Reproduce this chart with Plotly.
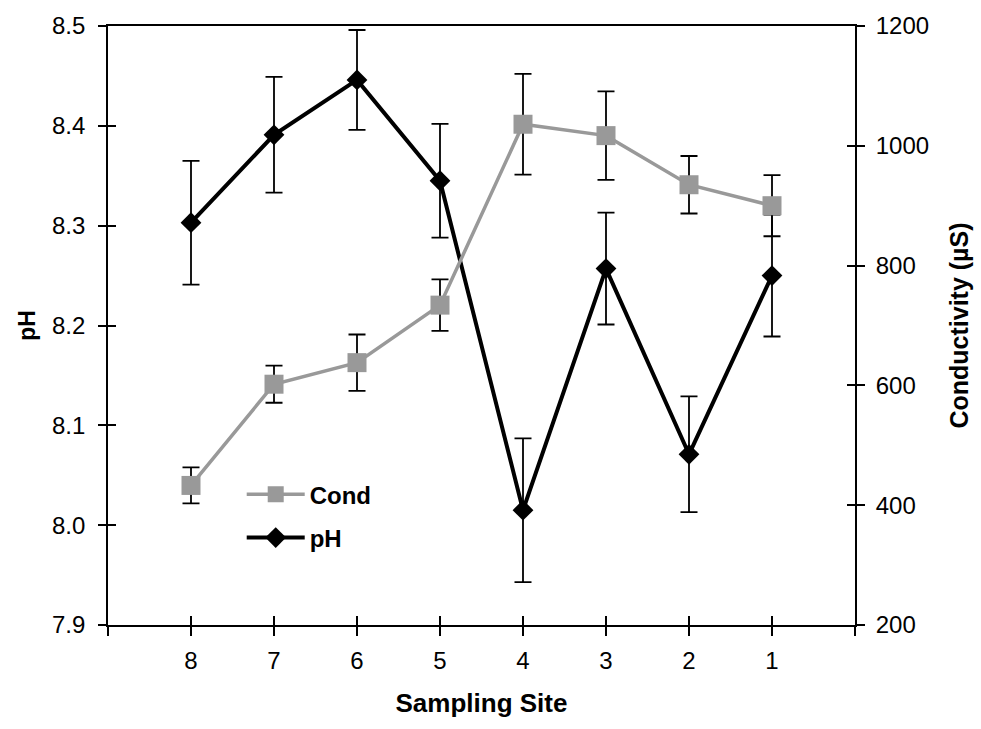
import plotly.graph_objects as go

# ---- data ----
sites = ["8", "7", "6", "5", "4", "3", "2", "1"]
ph_values = [8.303, 8.391, 8.446, 8.345, 8.015, 8.257, 8.071, 8.250]
ph_errors = [0.062, 0.058, 0.050, 0.057, 0.072, 0.056, 0.058, 0.061]
cond_values = [433, 602, 638, 734, 1036, 1017, 935, 900]
cond_errors = [30, 31, 47, 43, 84, 74, 48, 51]
ph_ticks = [7.9, 8.0, 8.1, 8.2, 8.3, 8.4, 8.5]
cond_ticks = [200, 400, 600, 800, 1000, 1200]

x_pos = list(range(1, len(sites) + 1))
x_ticks = list(range(0, len(sites) + 2))
x_text = [""] + sites + [""]

FONT = "Arial, Liberation Sans, sans-serif"
TICK_FONT = dict(family=FONT, size=24, color="black")
TITLE_FONT = dict(family=FONT, size=25, color="black", weight="bold")

fig = go.Figure()

fig.add_trace(go.Scatter(
    x=x_pos, y=cond_values, name="Cond", yaxis="y2", legendgroup="c",
    mode="lines+markers",
    line=dict(color="#999999", width=3.5),
    marker=dict(symbol="square", size=19, color="#999999"),
    error_y=dict(type="data", array=cond_errors, visible=True,
                 color="black", thickness=1.8, width=8.5),
))
fig.add_trace(go.Scatter(
    x=x_pos, y=ph_values, name="pH", yaxis="y", legendgroup="p",
    mode="lines+markers",
    line=dict(color="black", width=4),
    marker=dict(symbol="diamond", size=16, color="black"),
    error_y=dict(type="data", array=ph_errors, visible=True,
                 color="black", thickness=1.8, width=8.5),
))
# empty helper traces so the inside-tick overlay axes get drawn
fig.add_trace(go.Scatter(x=[], y=[], xaxis="x2", yaxis="y3", showlegend=False, hoverinfo="skip"))
fig.add_trace(go.Scatter(x=[], y=[], xaxis="x2", yaxis="y4", showlegend=False, hoverinfo="skip"))

xr = [0, len(sites) + 1]
fig.update_layout(
    width=981, height=729,
    margin=dict(l=108, r=121, t=21, b=104),
    paper_bgcolor="white", plot_bgcolor="white",
    showlegend=True,
    legend=dict(x=0.179, y=0.255, xanchor="left", yanchor="top",
                bgcolor="rgba(0,0,0,0)", borderwidth=0,
                font=dict(family=FONT, size=24, color="black", weight="bold"),
                itemwidth=58, tracegroupgap=9),
    xaxis=dict(range=xr, tickvals=x_ticks, ticktext=x_text,
               ticks="outside", ticklen=9, tickwidth=1.5, tickcolor="black",
               showline=True, linewidth=2, linecolor="black", mirror=True,
               showgrid=False, zeroline=False, tickfont=TICK_FONT,
               ticklabelstandoff=4,
               title=dict(text="Sampling Site",
                          font=dict(family=FONT, size=26, color="black", weight="bold"),
                          standoff=21)),
    xaxis2=dict(range=xr, tickvals=x_ticks, overlaying="x", anchor="y",
                ticks="inside", ticklen=9, tickwidth=1.5, tickcolor="black",
                showticklabels=False, showline=False, showgrid=False, zeroline=False),
    yaxis=dict(range=[7.9, 8.5], tickvals=ph_ticks, tickformat=".1f",
               ticks="outside", ticklen=8, tickwidth=1.5, tickcolor="black",
               showline=True, linewidth=1.8, linecolor="black",
               showgrid=False, zeroline=False, tickfont=TICK_FONT,
               ticklabelstandoff=8,
               title=dict(text="pH", font=dict(family=FONT, size=23, color="black", weight="bold"), standoff=10)),
    yaxis2=dict(range=[200, 1200], tickvals=cond_ticks, overlaying="y", side="right",
                anchor="x", ticks="outside", ticklen=8, tickwidth=1.5, tickcolor="black",
                showline=True, linewidth=1.8, linecolor="black",
                showgrid=False, zeroline=False, tickfont=TICK_FONT,
                ticklabelstandoff=6,
                title=dict(text="Conductivity (µS)", font=TITLE_FONT, standoff=22)),
    yaxis3=dict(range=[7.9, 8.5], tickvals=ph_ticks, overlaying="y", side="left",
                anchor="x", ticks="inside", ticklen=8, tickwidth=1.5, tickcolor="black",
                showticklabels=False, showline=False, showgrid=False, zeroline=False),
    yaxis4=dict(range=[200, 1200], tickvals=cond_ticks, overlaying="y", side="right",
                anchor="x", ticks="inside", ticklen=8, tickwidth=1.5, tickcolor="black",
                showticklabels=False, showline=False, showgrid=False, zeroline=False),
)

fig.write_html("out.html")
